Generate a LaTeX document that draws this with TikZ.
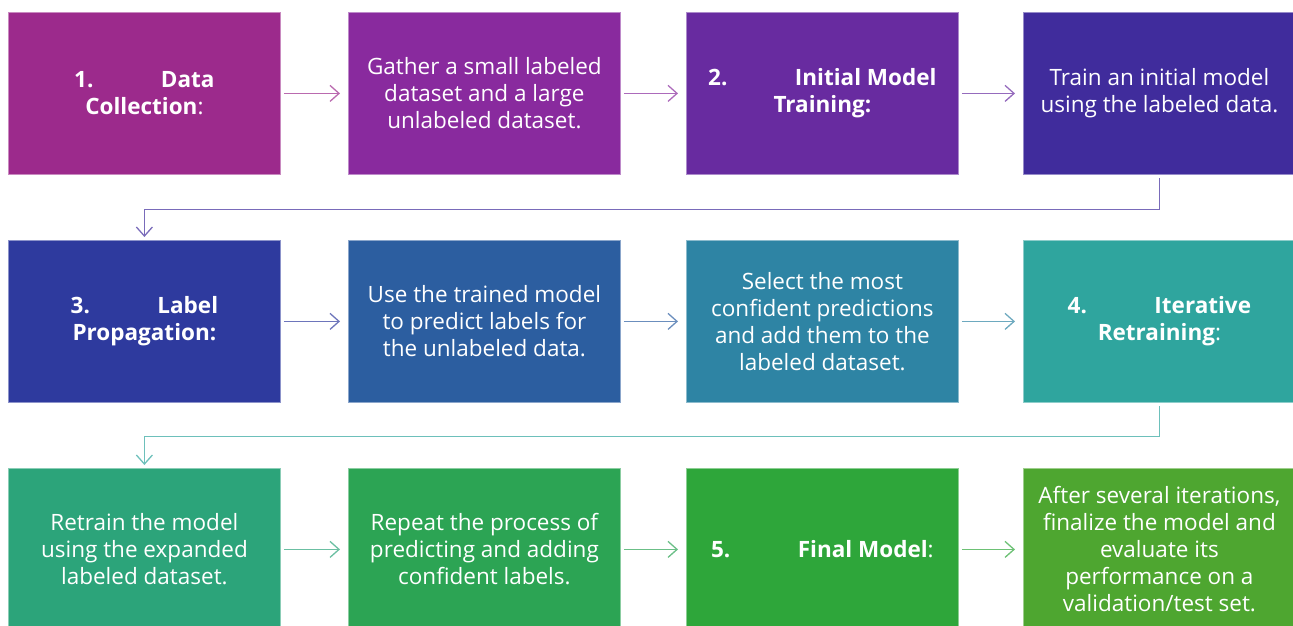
\documentclass[tikz,border=0pt]{standalone}
\usepackage{fontspec}
\setmainfont{Open Sans}
\usetikzlibrary{arrows.meta}

% box colours, one per step
\definecolor{collectcol}{RGB}{156,42,140}
\definecolor{gathercol}{RGB}{137,42,158}
\definecolor{inittraincol}{RGB}{104,43,160}
\definecolor{traincol}{RGB}{64,44,156}
\definecolor{propcol}{RGB}{46,58,158}
\definecolor{predictcol}{RGB}{44,94,160}
\definecolor{selectcol}{RGB}{46,132,164}
\definecolor{iterativecol}{RGB}{47,165,158}
\definecolor{retraincol}{RGB}{44,164,122}
\definecolor{repeatcol}{RGB}{44,164,84}
\definecolor{finalcol}{RGB}{46,166,58}
\definecolor{evalcol}{RGB}{78,166,48}

% numbered heading: number, wide gap, first word(s)
\newcommand{\numhead}[2]{\textbf{#1.}\hspace{3em}\textbf{#2}}

\tikzset{
    stepbox/.style={anchor=north west, fill=#1, draw=#1!55!white, line width=0.8pt,
        minimum width=272pt, minimum height=162pt, inner sep=0pt, text=white,
        align=center, font=\fontsize{22.5}{27}\selectfont},
    flow/.style={draw=#1!70!white, line width=1.3pt,
        -{Straight Barb[length=9pt,width=16pt]}, shorten <=3pt, shorten >=8pt},
    turn/.style={draw=#1!70!white, line width=1.3pt,
        -{Straight Barb[length=9pt,width=16pt]}, shorten <=3pt, shorten >=3pt},
}

\begin{document}
\begin{tikzpicture}[x=1pt,y=-1pt]
    \useasboundingbox (0,0) rectangle (1293,625);

    % Row 1
    \node[stepbox=collectcol] (collect) at (8,12) {\numhead{1}{Data}\\\textbf{Collection}:};
    \node[stepbox=gathercol] (gather) at (348,12) {Gather a small labeled\\dataset and a large\\unlabeled dataset.};
    \node[stepbox=inittraincol] (inittrain) at (686,12) {\numhead{2}{Initial Model}\\\textbf{Training:}};
    \node[stepbox=traincol] (train) at (1023,12) {Train an initial model\\using the labeled data.};

    % Row 2
    \node[stepbox=propcol] (prop) at (8,240) {\numhead{3}{Label}\\\textbf{Propagation:}};
    \node[stepbox=predictcol] (predict) at (348,240) {Use the trained model\\to predict labels for\\the unlabeled data.};
    \node[stepbox=selectcol] (select) at (686,240) {Select the most\\confident predictions\\and add them to the\\labeled dataset.};
    \node[stepbox=iterativecol] (iterative) at (1023,240) {\numhead{4}{Iterative}\\\textbf{Retraining}:};

    % Row 3
    \node[stepbox=retraincol] (retrain) at (8,468) {Retrain the model\\using the expanded\\labeled dataset.};
    \node[stepbox=repeatcol] (repeat) at (348,468) {Repeat the process of\\predicting and adding\\confident labels.};
    \node[stepbox=finalcol] (final) at (686,468) {\numhead{5}{Final Model}:};
    \node[stepbox=evalcol] (eval) at (1023,468) {After several iterations,\\finalize the model and\\evaluate its\\performance on a\\validation/test set.};

    % Draw the arrows along each row
    \draw[flow=collectcol] (collect.east) -- (gather.west);
    \draw[flow=gathercol] (gather.east) -- (inittrain.west);
    \draw[flow=inittraincol] (inittrain.east) -- (train.west);
    \draw[flow=propcol] (prop.east) -- (predict.west);
    \draw[flow=predictcol] (predict.east) -- (select.west);
    \draw[flow=selectcol] (select.east) -- (iterative.west);
    \draw[flow=retraincol] (retrain.east) -- (repeat.west);
    \draw[flow=repeatcol] (repeat.east) -- (final.west);
    \draw[flow=finalcol] (final.east) -- (eval.west);

    % Draw the links down to the next row
    \draw[turn=traincol] (train.south) -- ++(0,35) -| (prop.north);
    \draw[turn=iterativecol] (iterative.south) -- ++(0,34) -| (retrain.north);
\end{tikzpicture}
\end{document}
